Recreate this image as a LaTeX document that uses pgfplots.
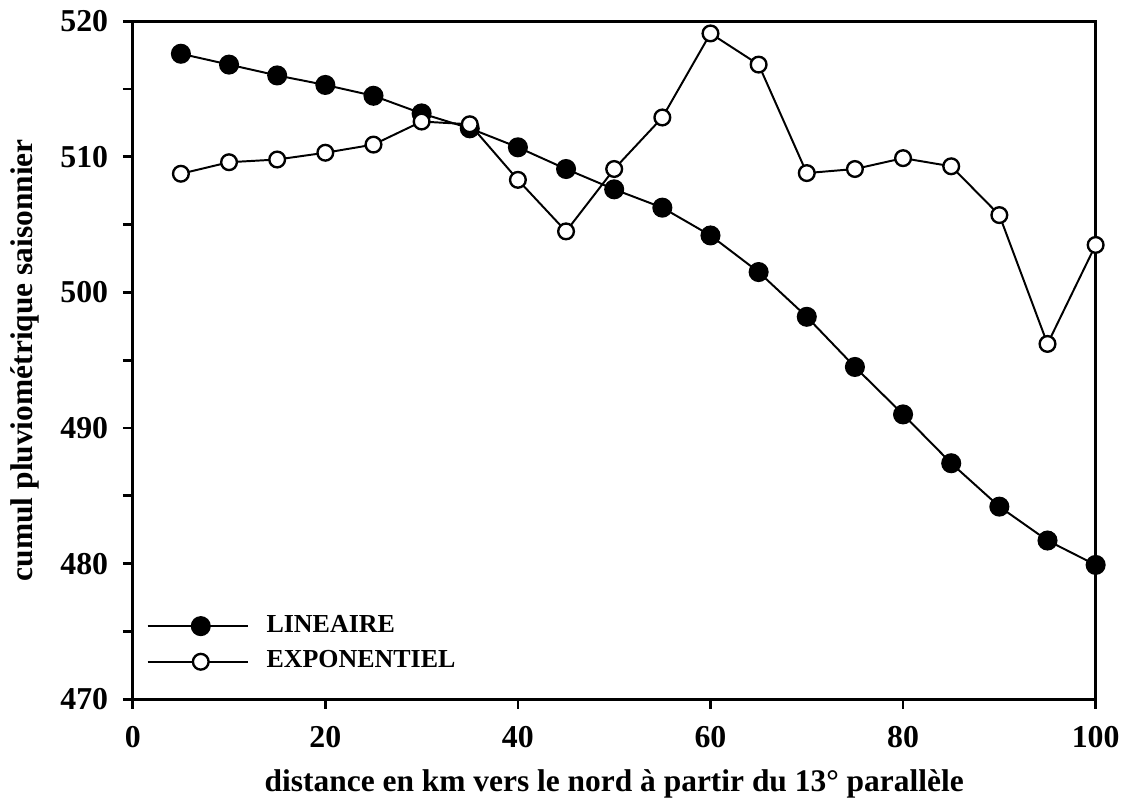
\documentclass[border=0pt]{standalone}
\usepackage{pgfplots}
\pgfplotsset{compat=1.18}
\usepackage{fontspec}
\setmainfont{Liberation Serif}
\newcommand{\ff}{\fontsize{16}{19}\selectfont\bfseries}
\newcommand{\ft}{\fontsize{16.2}{19}\selectfont\bfseries}
\newcommand{\fl}{\fontsize{13.2}{15}\selectfont\bfseries}
\begin{document}
\ff
\begin{tikzpicture}
\begin{axis}[
  scale only axis, width=490pt, height=345pt,
  xmin=0, xmax=100, ymin=470, ymax=520,
  xtick={0,20,...,100}, ytick={470,480,...,520},
  minor y tick num=1,
  xtick pos=left, ytick pos=left,
  tick align=outside, major tick length=5pt, minor tick length=5pt,
  axis line style={line width=1.4pt},
  every tick/.style={line width=1.4pt, black},
  /pgf/number format/assume math mode=true,
  ticklabel style={font=\ft},
  xticklabel style={yshift=-3.5pt},
  yticklabel style={xshift=-2pt},
  label style={font=\ff},
  xlabel style={yshift=0pt},
  ylabel style={yshift=0pt},
  xlabel={distance en km vers le nord à partir du 13° parallèle},
  ylabel={cumul pluviométrique saisonnier},
  legend style={draw=none, fill=none, at={(0.008,0.136)}, anchor=north west,
    font=\fl, row sep=3pt},
  legend cell align=left,
  legend image code/.code={\draw[mark repeat=2,mark phase=2,#1] plot coordinates {(0pt,0pt) (27pt,0pt) (51pt,0pt)}; \path (58pt,0pt);},
  clip=false,
]
\addplot[black, line width=1pt, mark=*, mark size=4.6pt, mark options={fill=black}] coordinates {
(5,517.6) (10,516.8) (15,516.0) (20,515.3) (25,514.5) (30,513.2) (35,512.1) (40,510.7) (45,509.1) (50,507.6) (55,506.25) (60,504.2) (65,501.5) (70,498.2) (75,494.5) (80,491.0) (85,487.4) (90,484.2) (95,481.7) (100,479.9)};
\addlegendentry{LINEAIRE}
\addplot[black, line width=1pt, mark=*, mark size=4pt, mark options={fill=white, line width=1.2pt}] coordinates {
(5,508.75) (10,509.6) (15,509.8) (20,510.3) (25,510.9) (30,512.6) (35,512.4) (40,508.3) (45,504.5) (50,509.1) (55,512.9) (60,519.1) (65,516.8) (70,508.8) (75,509.1) (80,509.9) (85,509.3) (90,505.7) (95,496.2) (100,503.5)};
\addlegendentry{EXPONENTIEL}
\end{axis}
\end{tikzpicture}
\end{document}
